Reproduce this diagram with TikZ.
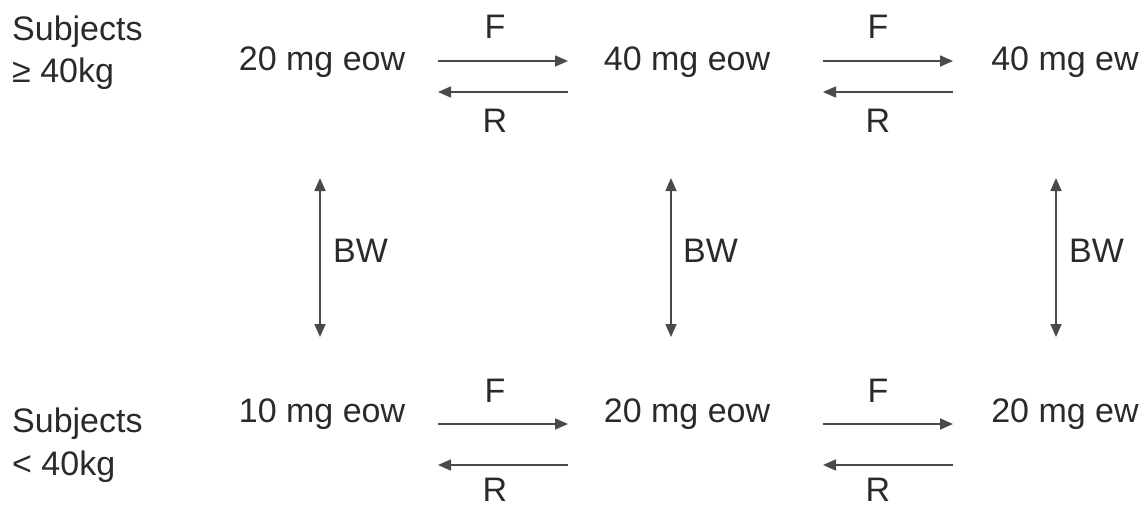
\documentclass[tikz,border=0pt]{standalone}
\usepackage{fontspec}
\setmainfont{Liberation Sans}
\usetikzlibrary{arrows.meta}
\definecolor{txt}{HTML}{2A2A2A}
\definecolor{ln}{HTML}{4A4A4A}
\begin{document}
\begin{tikzpicture}[x=1pt,y=-1pt,
  lbl/.style={font=\fontsize{34}{40}\selectfont, text=txt, inner sep=0pt, anchor=base},
  lblw/.style={lbl, anchor=base west},
  conn/.style={draw=ln, line width=1.6pt, -{Stealth[length=13pt,width=11pt,inset=0pt]}},
  conn2/.style={draw=ln, line width=1.6pt, {Stealth[length=13pt,width=11pt,inset=0pt]}-{Stealth[length=13pt,width=11pt,inset=0pt]}}]
\useasboundingbox (0,0) rectangle (1143,506);

% group labels
\node[lblw] (subA) at (12,40) {Subjects};
\node[lblw] (kgA) at (12,82) {≥ 40kg};
\node[lblw] (subB) at (12,432) {Subjects};
\node[lblw] (kgB) at (12,475) {< 40kg};

% doses
\node[lbl] (a1) at (322,70) {20 mg eow};
\node[lbl] (a2) at (687,70) {40 mg eow};
\node[lbl] (a3) at (1065,70) {40 mg ew};
\node[lbl] (b1) at (322,422) {10 mg eow};
\node[lbl] (b2) at (687,422) {20 mg eow};
\node[lbl] (b3) at (1065,422) {20 mg ew};

% F / R labels
\node[lbl] (fa1) at (495,38) {F};
\node[lbl] (ra1) at (495,132) {R};
\node[lbl] (fa2) at (878,38) {F};
\node[lbl] (ra2) at (878,132) {R};
\node[lbl] (fb1) at (495,402) {F};
\node[lbl] (rb1) at (495,501) {R};
\node[lbl] (fb2) at (878,402) {F};
\node[lbl] (rb2) at (878,501) {R};

% BW labels
\node[lblw] (bw1) at (333,262) {BW};
\node[lblw] (bw2) at (683,262) {BW};
\node[lblw] (bw3) at (1069,262) {BW};

% arrow end points
\coordinate (aL1) at (438,61); \coordinate (aR1) at (568,61);
\coordinate (aL1r) at (438,92); \coordinate (aR1r) at (568,92);
\coordinate (aL2) at (823,61); \coordinate (aR2) at (953,61);
\coordinate (aL2r) at (823,92); \coordinate (aR2r) at (953,92);
\coordinate (bL1) at (438,424); \coordinate (bR1) at (568,424);
\coordinate (bL1r) at (438,465); \coordinate (bR1r) at (568,465);
\coordinate (bL2) at (823,424); \coordinate (bR2) at (953,424);
\coordinate (bL2r) at (823,465); \coordinate (bR2r) at (953,465);
\coordinate (v1t) at (320,178); \coordinate (v1b) at (320,337);
\coordinate (v2t) at (671,178); \coordinate (v2b) at (671,337);
\coordinate (v3t) at (1056,178); \coordinate (v3b) at (1056,337);

\draw[conn] (aL1) -- (aR1);
\draw[conn] (aR1r) -- (aL1r);
\draw[conn] (aL2) -- (aR2);
\draw[conn] (aR2r) -- (aL2r);
\draw[conn] (bL1) -- (bR1);
\draw[conn] (bR1r) -- (bL1r);
\draw[conn] (bL2) -- (bR2);
\draw[conn] (bR2r) -- (bL2r);
\draw[conn2] (v1t) -- (v1b);
\draw[conn2] (v2t) -- (v2b);
\draw[conn2] (v3t) -- (v3b);
\end{tikzpicture}
\end{document}
